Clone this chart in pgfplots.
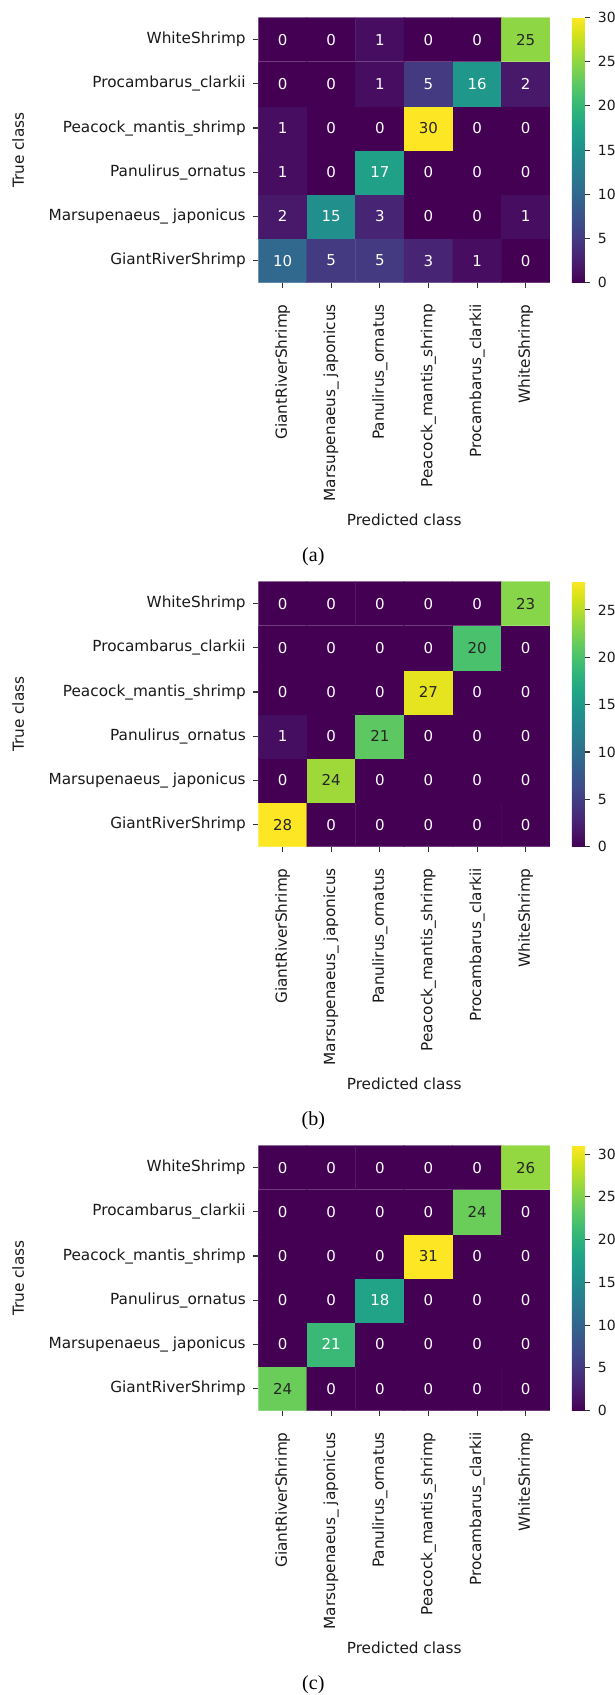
\documentclass[border=0pt]{standalone}
\usepackage{fontspec}
\setmainfont{DejaVu Sans}
\newfontfamily\capfont{Liberation Serif}
\usepackage{pgfplots}
\usepackage{pgfplotstable}
\pgfplotsset{compat=1.18}
\pgfkeys{/pgf/number format/assume math mode=true}
\definecolor{annot}{HTML}{262626}
\definecolor{tickc}{HTML}{333333}
\newcommand{\fsz}{\fontsize{15.3}{18}\selectfont}
\newcommand{\nsz}{\fontsize{15}{18}\selectfont}
\newcommand{\csz}{\fontsize{14}{17}\selectfont}

\pgfplotstableread{
x y c dk
0 0 10 0
1 0 5 0
2 0 5 0
3 0 3 0
4 0 1 0
5 0 0 0
0 1 2 0
1 1 15 0
2 1 3 0
3 1 0 0
4 1 0 0
5 1 1 0
0 2 1 0
1 2 0 0
2 2 17 0
3 2 0 0
4 2 0 0
5 2 0 0
0 3 1 0
1 3 0 0
2 3 0 0
3 3 30 1
4 3 0 0
5 3 0 0
0 4 0 0
1 4 0 0
2 4 1 0
3 4 5 0
4 4 16 0
5 4 2 0
0 5 0 0
1 5 0 0
2 5 1 0
3 5 0 0
4 5 0 0
5 5 25 1
}\tA

\pgfplotstableread{
x y c dk
0 0 28 1
1 0 0 0
2 0 0 0
3 0 0 0
4 0 0 0
5 0 0 0
0 1 0 0
1 1 24 1
2 1 0 0
3 1 0 0
4 1 0 0
5 1 0 0
0 2 1 0
1 2 0 0
2 2 21 1
3 2 0 0
4 2 0 0
5 2 0 0
0 3 0 0
1 3 0 0
2 3 0 0
3 3 27 1
4 3 0 0
5 3 0 0
0 4 0 0
1 4 0 0
2 4 0 0
3 4 0 0
4 4 20 1
5 4 0 0
0 5 0 0
1 5 0 0
2 5 0 0
3 5 0 0
4 5 0 0
5 5 23 1
}\tB

\pgfplotstableread{
x y c dk
0 0 24 1
1 0 0 0
2 0 0 0
3 0 0 0
4 0 0 0
5 0 0 0
0 1 0 0
1 1 21 0
2 1 0 0
3 1 0 0
4 1 0 0
5 1 0 0
0 2 0 0
1 2 0 0
2 2 18 0
3 2 0 0
4 2 0 0
5 2 0 0
0 3 0 0
1 3 0 0
2 3 0 0
3 3 31 1
4 3 0 0
5 3 0 0
0 4 0 0
1 4 0 0
2 4 0 0
3 4 0 0
4 4 24 1
5 4 0 0
0 5 0 0
1 5 0 0
2 5 0 0
3 5 0 0
4 5 0 0
5 5 26 1
}\tC

\pgfplotsset{
  cmat/.style={
    scale only axis, width=291.7pt, height=265.2pt,
    xmin=-0.5, xmax=5.5, ymin=-0.5, ymax=5.5,
    axis line style={draw=none},
    tick align=outside, xtick pos=left, ytick pos=left,
    major tick length=4.9pt,
    tick style={line width=1.1pt, tickc},
    xtick={0,...,5}, ytick={0,...,5},
    xticklabels={GiantRiverShrimp, Marsupenaeus\_ japonicus, Panulirus\_ornatus, Peacock\_mantis\_shrimp, Procambarus\_clarkii, WhiteShrimp},
    yticklabels={GiantRiverShrimp, Marsupenaeus\_ japonicus, Panulirus\_ornatus, Peacock\_mantis\_shrimp, Procambarus\_clarkii, WhiteShrimp},
    ticklabel style={font=\fsz, text=black!90},
    yticklabel style={anchor=east, inner sep=0pt, xshift=-7.5pt},
    xticklabel style={rotate=90, anchor=east, inner sep=0pt, inner xsep=5.5pt},
    xticklabel shift=11pt,
    xlabel={Predicted class}, ylabel={True class},
    xlabel style={at={(axis description cs:0.5,-0.8922)}, anchor=center, font=\fsz, text=black!90},
    ylabel style={at={(axis description cs:-0.8228,0.5)}, anchor=center, font=\fsz, text=black!90},
    title style={at={(axis description cs:0.1886,-1.0558)}, anchor=center, font=\capfont\fontsize{20}{24}\selectfont},
    colormap/viridis, point meta min=0,
  },
  cbar/.style={
    scale only axis, width=291.7pt, height=265.2pt,
    xmin=0, xmax=1, ymin=0, ymax=1,
    axis line style={draw=none}, xtick=\empty, ytick=\empty,
    colormap/viridis, point meta min=0, colorbar,
    colorbar style={
      at={(parent axis.north east)}, anchor=north west, xshift=13.3pt, width=13pt,
      axis line style={draw=none},
      tick align=outside, ytick pos=right, yticklabel pos=right,
      major tick length=4.9pt, tick style={line width=1.1pt, tickc},
      yticklabel style={anchor=west, inner sep=0pt, font=\csz, text=black!90, xshift=8pt},
    },
  },
}

\begin{document}
\begin{tikzpicture}
\useasboundingbox (0pt,0pt) rectangle (614pt,-1695pt);

% (a)
\begin{axis}[cmat, at={(258.3pt,-282.7pt)}, anchor=south west,
  point meta max=30, title={(a)}]
\addplot[matrix plot*, mesh/cols=6, point meta=explicit] table[x=x,y=y,meta=c] {\tA};
\addplot[draw=none, mark=none, point meta=explicit,
    visualization depends on={\thisrow{dk} \as \dkval},
    nodes near coords={\ifdim\dkval pt>0.5pt\color{annot}\else\color{white}\fi\pgfmathprintnumber{\pgfplotspointmeta}},
    nodes near coords align=center,
    every node near coord/.append style={font=\nsz, anchor=center, inner sep=0pt}]
  table[x=x,y=y,meta=c] {\tA};
\end{axis}
\begin{axis}[cbar, at={(258.3pt,-282.7pt)}, anchor=south west,
  point meta max=30, colorbar style={ytick={0,5,...,30}}]
\addplot[draw=none] coordinates {(0,0) (1,1)};
\end{axis}

% (b)
\begin{axis}[cmat, at={(258.3pt,-846.7pt)}, anchor=south west,
  point meta max=28, title={(b)}]
\addplot[matrix plot*, mesh/cols=6, point meta=explicit] table[x=x,y=y,meta=c] {\tB};
\addplot[draw=none, mark=none, point meta=explicit,
    visualization depends on={\thisrow{dk} \as \dkval},
    nodes near coords={\ifdim\dkval pt>0.5pt\color{annot}\else\color{white}\fi\pgfmathprintnumber{\pgfplotspointmeta}},
    nodes near coords align=center,
    every node near coord/.append style={font=\nsz, anchor=center, inner sep=0pt}]
  table[x=x,y=y,meta=c] {\tB};
\end{axis}
\begin{axis}[cbar, at={(258.3pt,-846.7pt)}, anchor=south west,
  point meta max=28, colorbar style={ytick={0,5,...,25}}]
\addplot[draw=none] coordinates {(0,0) (1,1)};
\end{axis}

% (c)
\begin{axis}[cmat, at={(258.3pt,-1410.7pt)}, anchor=south west,
  point meta max=31, title={(c)}]
\addplot[matrix plot*, mesh/cols=6, point meta=explicit] table[x=x,y=y,meta=c] {\tC};
\addplot[draw=none, mark=none, point meta=explicit,
    visualization depends on={\thisrow{dk} \as \dkval},
    nodes near coords={\ifdim\dkval pt>0.5pt\color{annot}\else\color{white}\fi\pgfmathprintnumber{\pgfplotspointmeta}},
    nodes near coords align=center,
    every node near coord/.append style={font=\nsz, anchor=center, inner sep=0pt}]
  table[x=x,y=y,meta=c] {\tC};
\end{axis}
\begin{axis}[cbar, at={(258.3pt,-1410.7pt)}, anchor=south west,
  point meta max=31, colorbar style={ytick={0,5,...,30}}]
\addplot[draw=none] coordinates {(0,0) (1,1)};
\end{axis}
\end{tikzpicture}
\end{document}
